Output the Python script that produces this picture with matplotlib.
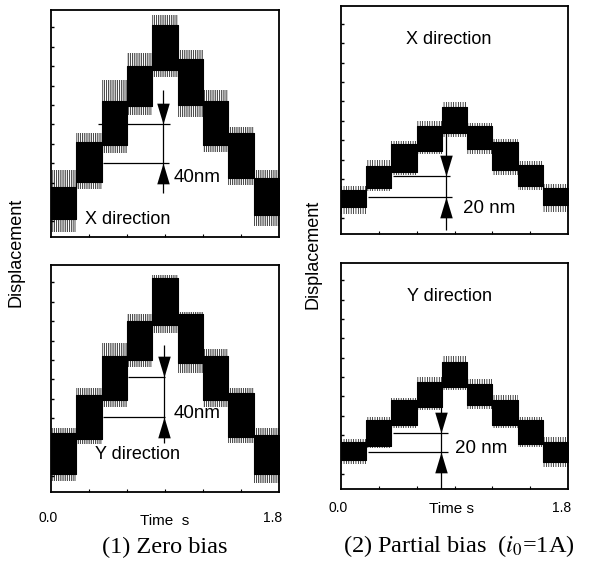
import numpy as np
import matplotlib.pyplot as plt
from matplotlib.ticker import MultipleLocator
from matplotlib.transforms import ScaledTranslation

plt.rcParams['font.family'] = ['Liberation Sans', 'DejaVu Sans']
plt.rcParams['mathtext.fontset'] = 'stix'
plt.rcParams['hatch.linewidth'] = 0.5

# step boundaries (s)
step_edges = [0.0, 0.2, 0.4, 0.6, 0.8, 1.0, 1.2, 1.4, 1.6, 1.8]

# (1) zero bias, X direction: dense band and spike envelope of each step (nm)
zx_core_hi = [16, 62, 104, 140, 183, 147, 104, 71, 25]
zx_core_lo = [-17, 21, 59, 99, 136, 100, 59, 25, -13]
zx_spike_hi = [33, 71, 126, 154, 193, 157, 116, 77, 33]
zx_spike_lo = [-31, 13, 51, 90, 129, 88, 52, 18, -25]

# (1) zero bias, Y direction
zy_core_hi = [25, 64, 104, 140, 185, 147, 104, 66, 23]
zy_core_lo = [-17, 19, 59, 100, 136, 97, 59, 21, -17]
zy_spike_hi = [30, 71, 118, 147, 188, 150, 111, 71, 30]
zy_spike_lo = [-25, 13, 52, 93, 128, 87, 52, 14, -27]

# (2) partial bias, X direction
px_core_hi = [9, 34, 56, 75, 94, 75, 58, 35, 11]
px_core_lo = [-8, 11, 28, 49, 68, 51, 30, 13, -6]
px_spike_hi = [13, 40, 59, 80, 99, 78, 61, 39, 15]
px_spike_lo = [-15, 8, 25, 46, 64, 46, 25, 9, -13]

# (2) partial bias, Y direction
py_core_hi = [13, 35, 56, 75, 95, 73, 56, 35, 13]
py_core_lo = [-6, 9, 30, 49, 70, 51, 30, 11, -8]
py_spike_hi = [16, 39, 58, 80, 102, 78, 61, 39, 18]
py_spike_lo = [-10, 6, 27, 46, 66, 47, 27, 8, -13]

# narrow arrow heads, tip at the marker origin
down_head = [(-1.2, 4), (1.2, 4), (0, 0)]
up_head = [(-1.2, -4), (1.2, -4), (0, 0)]

fig = plt.figure(figsize=(5.89, 5.63), dpi=100)


def make_axes(rect, show_labels, pad=14):
    ax = fig.add_axes(rect)
    ax.set_xlim(0, 1.8)
    ax.set_ylim(-36, 198)
    ax.set_xticks([0, 1.8])
    ax.set_xticklabels(['0.0', '1.8'])
    ax.xaxis.set_minor_locator(MultipleLocator(0.3))
    ax.yaxis.set_major_locator(MultipleLocator(20))
    ax.tick_params(axis='x', which='major', length=0, labelsize=10, pad=pad,
                   labelbottom=show_labels)
    ax.tick_params(axis='x', which='minor', direction='in', length=2.5, width=0.8)
    ax.tick_params(axis='y', which='major', direction='in', length=2.5, width=1,
                   labelleft=False)
    if show_labels:
        lbls = ax.xaxis.get_majorticklabels()
        lbls[0].set_transform(lbls[0].get_transform() +
                              ScaledTranslation(-3 / 100, 0, fig.dpi_scale_trans))
        lbls[1].set_transform(lbls[1].get_transform() +
                              ScaledTranslation(-6 / 100, 0, fig.dpi_scale_trans))
    for s in ax.spines.values():
        s.set_linewidth(1.3)
    return ax


def draw_signal(ax, core_lo, core_hi, spike_lo, spike_hi, hatch):
    x = step_edges
    ax.fill_between(x, np.append(spike_lo, spike_lo[-1]), np.append(spike_hi, spike_hi[-1]),
                    step='post', facecolor='none', edgecolor='k', linewidth=0, hatch=hatch)
    ax.fill_between(x, np.append(core_lo, core_lo[-1]), np.append(core_hi, core_hi[-1]),
                    step='post', facecolor='k', edgecolor='k', linewidth=0.8)


def draw_marker(ax, x, y_low, y_high, up_x, low_x, v_range):
    ax.hlines(y_high, up_x[0], up_x[1], color='k', lw=0.9)
    ax.hlines(y_low, low_x[0], low_x[1], color='k', lw=0.9)
    ax.vlines(x, v_range[0], v_range[1], color='k', lw=0.9)
    ax.plot([x], [y_high], marker=down_head, ms=30, mew=0, color='k')
    ax.plot([x], [y_low], marker=up_head, ms=30, mew=0, color='k')


# (1) zero bias
ax1 = make_axes([51 / 589, 1 - 237 / 563, 228 / 589, 227 / 563], False)
draw_signal(ax1, zx_core_lo, zx_core_hi, zx_spike_lo, zx_spike_hi, '|||||||||')
draw_marker(ax1, 0.887, 40, 80, (0.373, 0.94), (0.413, 0.93), (9, 116))
ax1.text(0.965, 25, '40nm', fontsize=13.5, va='center', ha='left')
ax1.text(0.604, -18, 'X direction', fontsize=13, va='center', ha='center')

ax3 = make_axes([51 / 589, 1 - 492 / 563, 228 / 589, 227 / 563], True)
draw_signal(ax3, zy_core_lo, zy_core_hi, zy_spike_lo, zy_spike_hi, '|||||||||')
draw_marker(ax3, 0.892, 41, 83, (0.61, 0.9), (0.413, 0.9), (14, 116))
ax3.text(0.965, 45, '40nm', fontsize=13.5, va='center', ha='left')
ax3.text(0.683, 3, 'Y direction', fontsize=13, va='center', ha='center')

# (2) partial bias
ax2 = make_axes([341 / 589, 1 - 234 / 563, 227 / 589, 228 / 563], False)
draw_signal(ax2, px_core_lo, px_core_hi, px_spike_lo, px_spike_hi, '|||||||')
draw_marker(ax2, 0.83, 1.5, 24, (0.415, 0.864), (0.217, 0.878), (-32, 68))
ax2.text(0.97, -9.5, '20 nm', fontsize=13.5, va='center', ha='left')
ax2.text(0.851, 163.5, 'X direction', fontsize=13, va='center', ha='center')

ax4 = make_axes([341 / 589, 1 - 489 / 563, 227 / 589, 226 / 563], True, pad=9)
draw_signal(ax4, py_core_lo, py_core_hi, py_spike_lo, py_spike_hi, '|||||||')
draw_marker(ax4, 0.793, 2, 21.5, (0.415, 0.85), (0.217, 0.85), (-36, 49))
ax4.text(0.904, 6, '20 nm', fontsize=13.5, va='center', ha='left')
ax4.text(0.859, 163, 'Y direction', fontsize=13, va='center', ha='center')

# axis titles and captions
fig.text(16 / 589, 1 - 252 / 563, 'Displacement', rotation=90, fontsize=13,
         ha='center', va='center')
fig.text(313 / 589, 1 - 254 / 563, 'Displacement', rotation=90, fontsize=13,
         ha='center', va='center')
fig.text(164.5 / 589, 1 - 521 / 563, 'Time  s', fontsize=11, ha='center', va='center')
fig.text(451.7 / 589, 1 - 509 / 563, 'Time s', fontsize=11, ha='center', va='center')

serif = ['Liberation Serif', 'DejaVu Serif']
fig.text(165 / 589, 1 - 547 / 563, '(1) Zero bias', family=serif, fontsize=17.5,
         ha='center', va='center')
fig.text(459 / 589, 1 - 546 / 563, r'(2) Partial bias  ($i_{\mathit{0}}$=1A)', family=serif,
         fontsize=17.5, ha='center', va='center')

fig.savefig('out.png', dpi=100)
